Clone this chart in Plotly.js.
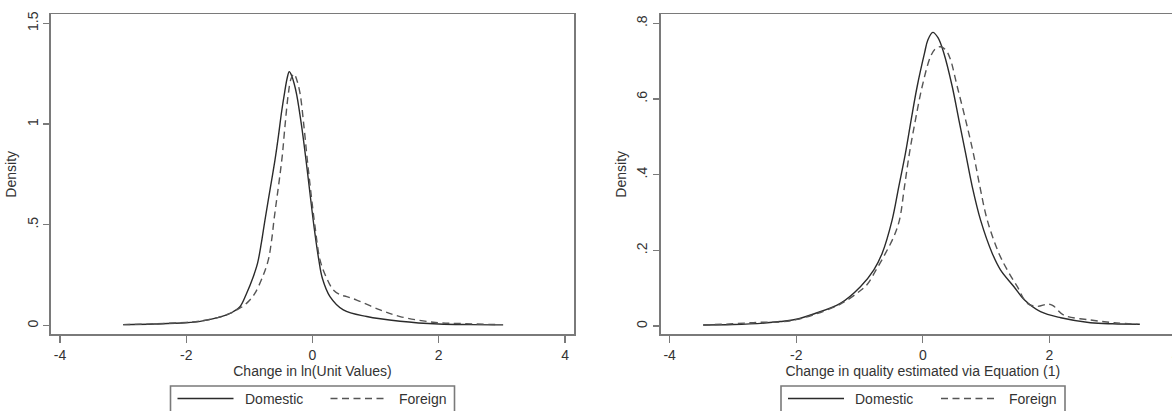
<!DOCTYPE html>
<html>
<head>
<meta charset="utf-8">
<script src="https://cdn.plot.ly/plotly-3.0.1.min.js"></script>
<style>
html,body{margin:0;padding:0;overflow:hidden;background:#fff;}
#chart{width:1190px;height:411px;}
</style>
</head>
<body>
<div id="chart"></div>
<script>
// ---- Data ----
const seriesNames = ['Domestic', 'Foreign'];

// Left panel: Change in ln(Unit Values)
const uvDomesticX = [-3.0,-2.5,-2.0,-1.78,-1.47,-1.36,-1.25,-1.149,-1.043,-0.938,-0.87,-0.81,-0.755,-0.70,-0.647,-0.594,-0.54,-0.49,-0.44,-0.40,-0.368,-0.33,-0.29,-0.25,-0.171,-0.103,-0.040,0.024,0.10,0.156,0.277,0.488,0.859,1.387,2.0,2.5,3.02];
const uvDomesticY = [0.005,0.008,0.014,0.021,0.042,0.053,0.070,0.094,0.161,0.243,0.31,0.41,0.52,0.624,0.722,0.822,0.94,1.06,1.16,1.23,1.26,1.24,1.20,1.145,0.987,0.822,0.657,0.491,0.326,0.235,0.144,0.078,0.045,0.022,0.008,0.005,0.004];
const uvForeignX = [-3.0,-2.5,-2.0,-1.78,-1.5,-1.3,-1.2,-1.097,-1.0,-0.911,-0.789,-0.70,-0.647,-0.61,-0.568,-0.526,-0.478,-0.436,-0.383,-0.34,-0.293,-0.25,-0.198,-0.135,-0.082,-0.024,0.040,0.119,0.214,0.330,0.45,0.542,0.700,1.07,1.387,1.91,2.4,2.95];
const uvForeignY = [0.005,0.009,0.016,0.023,0.040,0.062,0.078,0.097,0.125,0.161,0.243,0.326,0.425,0.524,0.624,0.722,0.845,0.99,1.15,1.225,1.249,1.22,1.153,0.987,0.822,0.657,0.491,0.326,0.243,0.177,0.152,0.144,0.127,0.078,0.045,0.017,0.010,0.005];

// Right panel: Change in quality estimated via Equation (1)
const qDomesticX = [-3.47,-3.0,-2.5,-2.253,-2.0,-1.725,-1.303,-0.986,-0.776,-0.643,-0.485,-0.380,-0.274,-0.184,-0.089,0.027,0.08,0.158,0.24,0.333,0.465,0.570,0.676,0.782,0.913,1.098,1.230,1.441,1.6,1.86,2.18,2.65,3.0,3.43];
const qDomesticY = [0.003,0.004,0.008,0.012,0.018,0.032,0.060,0.104,0.148,0.192,0.280,0.368,0.457,0.545,0.633,0.721,0.756,0.776,0.762,0.721,0.633,0.545,0.457,0.368,0.280,0.192,0.148,0.104,0.070,0.038,0.022,0.009,0.006,0.005];
const qForeignX = [-3.47,-3.0,-2.6,-2.253,-2.0,-1.725,-1.303,-1.0,-0.880,-0.722,-0.591,-0.459,-0.369,-0.290,-0.211,-0.116,-0.010,0.122,0.2,0.28,0.36,0.43,0.544,0.676,0.798,0.903,1.019,1.203,1.336,1.494,1.653,1.81,1.97,2.05,2.23,2.65,3.02,3.39];
const qForeignY = [0.003,0.006,0.010,0.011,0.017,0.030,0.058,0.092,0.110,0.153,0.192,0.236,0.280,0.368,0.457,0.545,0.633,0.712,0.733,0.738,0.730,0.708,0.633,0.545,0.457,0.368,0.280,0.192,0.148,0.104,0.060,0.052,0.058,0.055,0.029,0.016,0.009,0.005];

// Tick labels and titles
const xTickVals = [-4,-2,0,2,4];
const xTickText = ['-4','-2','0','2','4'];
const y1TickVals = [0,0.5,1,1.5];
const y1TickText = ['0','.5','1','1.5'];
const y2TickVals = [0,0.2,0.4,0.6,0.8];
const y2TickText = ['0','.2','.4','.6','.8'];
const xTitle1 = 'Change in ln(Unit Values)';
const xTitle2 = 'Change in quality estimated via Equation (1)';
const yTitle = 'Density';

// ---- Layout helpers (pixel -> paper) ----
const W = 1190, H = 411;
const PX = v => v / W;
const PY = v => 1 - v / H;

const FONT = 'Liberation Sans, Arial, Helvetica, sans-serif';
const TXT = '#333333';
const FRAME = '#7a7a7a';
const SOLID_COLOR = '#2b2b2b';
const DASH_COLOR = '#555555';
const DASH = '7px,4.5px';

function curve(x, y, name, xa, ya, dashed) {
  return {
    type: 'scatter', mode: 'lines', x: x, y: y, name: name,
    xaxis: xa, yaxis: ya, showlegend: false, hoverinfo: 'skip',
    line: {color: dashed ? DASH_COLOR : SOLID_COLOR, width: 1.4, shape: 'spline', smoothing: 1, dash: dashed ? DASH : 'solid'}
  };
}

const data = [
  curve(uvDomesticX, uvDomesticY, seriesNames[0], 'x', 'y', false),
  curve(uvForeignX, uvForeignY, seriesNames[1], 'x', 'y', true),
  curve(qDomesticX, qDomesticY, seriesNames[0], 'x2', 'y2', false),
  curve(qForeignX, qForeignY, seriesNames[1], 'x2', 'y2', true)
];

const yDom = [1 - 334.3 / H, 1 - 14.3 / H];

function xAxis(domain, range, title, anchor) {
  return {
    domain: domain, range: range, anchor: anchor,
    tickmode: 'array', tickvals: xTickVals, ticktext: xTickText,
    ticks: 'outside', ticklen: 7, tickwidth: 1.2, tickcolor: FRAME,
    showline: true, linecolor: FRAME, linewidth: 1.6, mirror: true,
    showgrid: false, zeroline: false,
    tickfont: {family: FONT, size: 14, color: TXT},
    title: {text: title, standoff: 4, font: {family: FONT, size: 14, color: TXT}}
  };
}
function yAxis(range, vals, text, anchor, mirror) {
  return {
    domain: yDom, range: range, anchor: anchor,
    tickmode: 'array', tickvals: vals, ticktext: text, tickangle: -90,
    ticks: 'outside', ticklen: 6, tickwidth: 1.2, tickcolor: FRAME,
    showline: true, linecolor: FRAME, linewidth: 1.6, mirror: mirror,
    showgrid: false, zeroline: false,
    tickfont: {family: FONT, size: 14, color: TXT},
    title: {text: yTitle, standoff: 4, font: {family: FONT, size: 14, color: TXT}}
  };
}

// Legend boxes drawn as shapes + text
function legend(left) {
  const yl = 398.5;
  const shapes = [
    {type: 'rect', xref: 'paper', yref: 'paper', x0: PX(left), x1: PX(left + 284), y0: PY(386), y1: PY(420),
     line: {color: FRAME, width: 1.6}, fillcolor: 'rgba(0,0,0,0)'},
    {type: 'line', xref: 'paper', yref: 'paper', x0: PX(left + 7), x1: PX(left + 63), y0: PY(yl), y1: PY(yl),
     line: {color: SOLID_COLOR, width: 1.4}},
    {type: 'line', xref: 'paper', yref: 'paper', x0: PX(left + 160), x1: PX(left + 217), y0: PY(yl), y1: PY(yl),
     line: {color: DASH_COLOR, width: 1.4, dash: DASH}}
  ];
  const anns = [
    {xref: 'paper', yref: 'paper', x: PX(left + 72), y: PY(yl), xanchor: 'left', yanchor: 'middle', showarrow: false,
     text: seriesNames[0], font: {family: FONT, size: 14, color: TXT}},
    {xref: 'paper', yref: 'paper', x: PX(left + 226), y: PY(yl), xanchor: 'left', yanchor: 'middle', showarrow: false,
     text: seriesNames[1], font: {family: FONT, size: 14, color: TXT}}
  ];
  return {shapes, anns};
}
const lg1 = legend(170.5), lg2 = legend(781);

const layout = {
  width: W, height: H, autosize: false,
  margin: {l: 0, r: 0, t: 0, b: 0},
  paper_bgcolor: '#ffffff', plot_bgcolor: '#ffffff',
  font: {family: FONT, size: 14, color: TXT},
  showlegend: false,
  xaxis: xAxis([PX(50.7), PX(574.3)], [-4.147, 4.147], xTitle1, 'y'),
  yaxis: yAxis([-0.043, 1.5446], y1TickVals, y1TickText, 'x', true),
  xaxis2: xAxis([PX(660.5), PX(1185.1)], [-4.145, 4.145], xTitle2, 'y2'),
  yaxis2: yAxis([-0.0217, 0.8238], y2TickVals, y2TickText, 'x2', true),
  shapes: lg1.shapes.concat(lg2.shapes),
  annotations: lg1.anns.concat(lg2.anns)
};

Plotly.newPlot('chart', data, layout, {staticPlot: true, displayModeBar: false});
</script>
</body>
</html>
